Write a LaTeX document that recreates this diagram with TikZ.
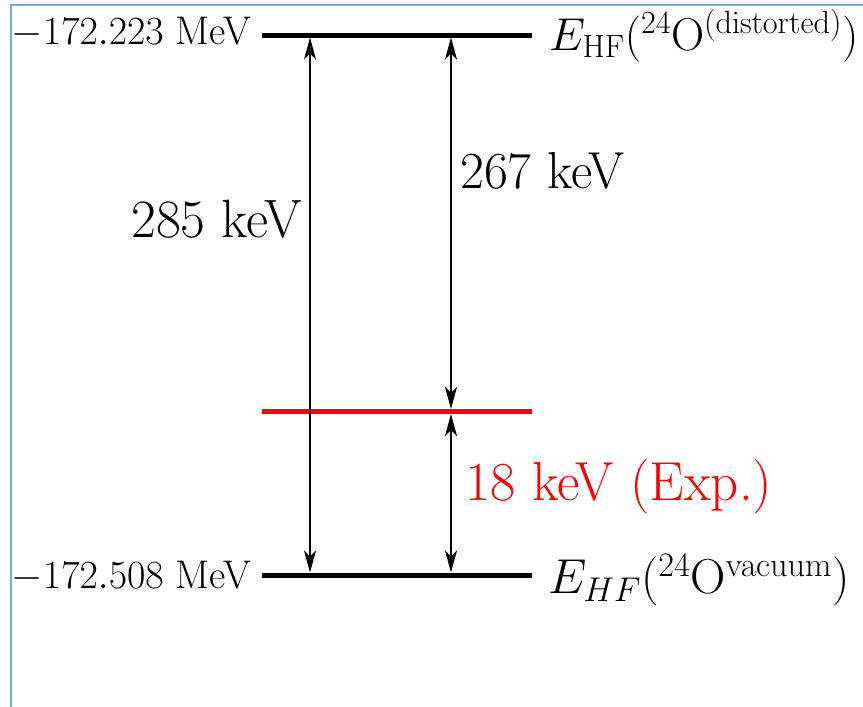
\RequirePackage{fix-cm}
\documentclass[tikz,border=0pt]{standalone}
\usetikzlibrary{arrows.meta}
\definecolor{framecol}{RGB}{120,170,225}
\begin{document}
\begin{tikzpicture}[x=1pt,y=-1pt,
  level/.style={line width=5pt},
  dbl/.style={line width=1.3pt,{Stealth[length=22pt,width=12pt,inset=6pt]}-{Stealth[length=22pt,width=12pt,inset=6pt]}},
  mevlab/.style={font=\fontsize{40}{46}\selectfont, inner sep=0pt},
  ehflab/.style={inner sep=0pt}]
\useasboundingbox (0,0) rectangle (863,707);
\draw[framecol, line width=2pt] (11,707) -- (11,5) -- (863,5);
% levels
\coordinate (topL) at (262,35);
\coordinate (topR) at (532,35);
\coordinate (redL) at (262,411.5);
\coordinate (redR) at (532,411.5);
\coordinate (botL) at (262,575);
\coordinate (botR) at (532,575);
\draw[level] (topL) -- (topR);
\draw[level, red] (redL) -- (redR);
\draw[level] (botL) -- (botR);
% arrow ends
\coordinate (a1t) at (310,37.5);
\coordinate (a1b) at (310,572.5);
\coordinate (a2t) at (451,37.5);
\coordinate (a2b) at (451,409);
\coordinate (a3t) at (451,414);
\coordinate (a3b) at (451,572.5);
\draw[dbl] (a1t) -- (a1b);
\draw[dbl] (a2t) -- (a2b);
\draw[dbl] (a3t) -- (a3b);
% labels
\node[mevlab, anchor=east] (mtop) at (251,33) {$-172.223$ MeV};
\node[mevlab, anchor=east] (mbot) at (251,577) {$-172.508$ MeV};
\node[ehflab, font=\fontsize{46}{52}\selectfont, anchor=west] (etop) at (549,36) {$E_{\mathrm{HF}}(^{24}\mathrm{O}^{(\mathrm{distorted})})$};
\node[ehflab, font=\fontsize{49}{55}\selectfont, anchor=west] (ebot) at (548,580) {$E_{HF}(^{24}\mathrm{O}^{\mathrm{vacuum}})$};
\node[font=\fontsize{54}{60}\selectfont, inner sep=0pt, anchor=east] (k285) at (302,219) {285 keV};
\node[font=\fontsize{52}{58}\selectfont, inner sep=0pt, anchor=west] (k267) at (460,171) {267 keV};
\node[font=\fontsize{55}{60}\selectfont, inner sep=0pt, anchor=west, text=red] (k18) at (465,487) {18 keV (Exp.)};
\end{tikzpicture}
\end{document}
